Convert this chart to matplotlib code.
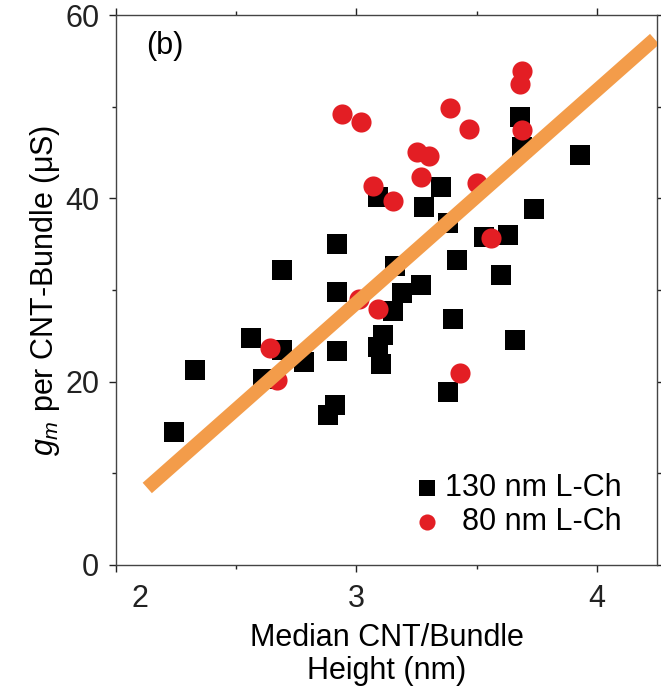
import matplotlib
matplotlib.use('Agg')
import matplotlib.pyplot as plt
import matplotlib.transforms as mtransforms

plt.rcParams['font.family'] = ['Liberation Sans', 'DejaVu Sans']
plt.rcParams['mathtext.fontset'] = 'custom'
plt.rcParams['mathtext.rm'] = 'Liberation Sans'
plt.rcParams['mathtext.it'] = 'Liberation Sans:italic'

# 130 nm channel length (black squares)
sq_x = [2.24, 2.33, 2.56, 2.61, 2.69, 2.69, 2.78, 2.88, 2.91, 2.92, 2.92, 2.92,
        3.09, 3.09, 3.10, 3.11, 3.15, 3.16, 3.19, 3.27, 3.28, 3.35, 3.38, 3.38,
        3.40, 3.42, 3.53, 3.60, 3.63, 3.66, 3.68, 3.69, 3.74, 3.93]
sq_y = [14.5, 21.3, 24.8, 20.3, 32.2, 23.5, 22.2, 16.4, 17.5, 29.8, 35.0, 23.3,
        40.2, 23.8, 21.9, 25.1, 27.7, 32.6, 29.7, 30.6, 39.1, 41.2, 37.3, 18.9,
        26.8, 33.3, 35.8, 31.6, 36.0, 24.6, 48.9, 45.6, 38.9, 44.7]

# 80 nm channel length (red circles)
ci_x = [2.64, 2.67, 2.94, 3.02, 3.01, 3.07, 3.09, 3.15, 3.25, 3.30, 3.27, 3.39,
        3.43, 3.47, 3.50, 3.56, 3.68, 3.69, 3.69]
ci_y = [23.7, 20.2, 49.2, 48.4, 29.0, 41.4, 27.9, 39.7, 45.1, 44.6, 42.3, 49.9,
        21.0, 47.6, 41.7, 35.7, 52.5, 53.9, 47.5]

# fit line end points
fit_x = [2.13, 4.24]
fit_y = [8.4, 57.4]

fig = plt.figure(figsize=(6.61, 6.94), dpi=100)
ax = fig.add_axes([0.1755, 0.186, 0.8185, 0.792])

ax.scatter(sq_x, sq_y, marker='s', s=200, color='black', linewidths=0, zorder=2,
           label='130 nm L-Ch')
ax.scatter(ci_x, ci_y, marker='o', s=210, color='#E31E24', linewidths=0, zorder=3,
           label='  80 nm L-Ch')
ax.plot(fit_x, fit_y, color='#F39C4A', linewidth=10, solid_capstyle='butt', zorder=4)

ax.set_xlim(2.0, 4.25)
ax.set_ylim(0, 60)
ax.set_xticks([2, 3, 4])
ax.set_xticks([2.5, 3.5], minor=True)
ax.set_yticks([0, 20, 40, 60])
ax.set_yticks([10, 30, 50], minor=True)
ax.tick_params(which='both', direction='out', top=True, right=True,
               labelsize=22, colors='#222222', width=1)
ax.tick_params(which='major', length=5)
ax.tick_params(which='minor', length=3)
ax.tick_params(axis='x', which='major', pad=9)
ax.tick_params(axis='y', which='major', pad=7)
for s in ax.spines.values():
    s.set_color('#444444')
    s.set_linewidth(1)

# the "2" label sits to the right of its tick
lab = ax.get_xticklabels()[0]
lab.set_transform(lab.get_transform() + mtransforms.ScaledTranslation(0.24, 0, fig.dpi_scale_trans))

ax.set_xlabel('Median CNT/Bundle\nHeight (nm)', fontsize=22, labelpad=6, linespacing=1.15)
ax.set_ylabel(r'$g_m$ per CNT-Bundle ($\mathrm{\mu}$S)', fontsize=22, labelpad=2)

ax.text(0.055, 0.93, '(b)', transform=ax.transAxes, fontsize=22)

ax.legend(loc='lower right', frameon=False, fontsize=22, handletextpad=0.15,
          handlelength=0.9, labelspacing=0.15, markerscale=0.8,
          borderaxespad=0, borderpad=0, bbox_to_anchor=(0.935, 0.05))

fig.savefig('out.png', dpi=100)
